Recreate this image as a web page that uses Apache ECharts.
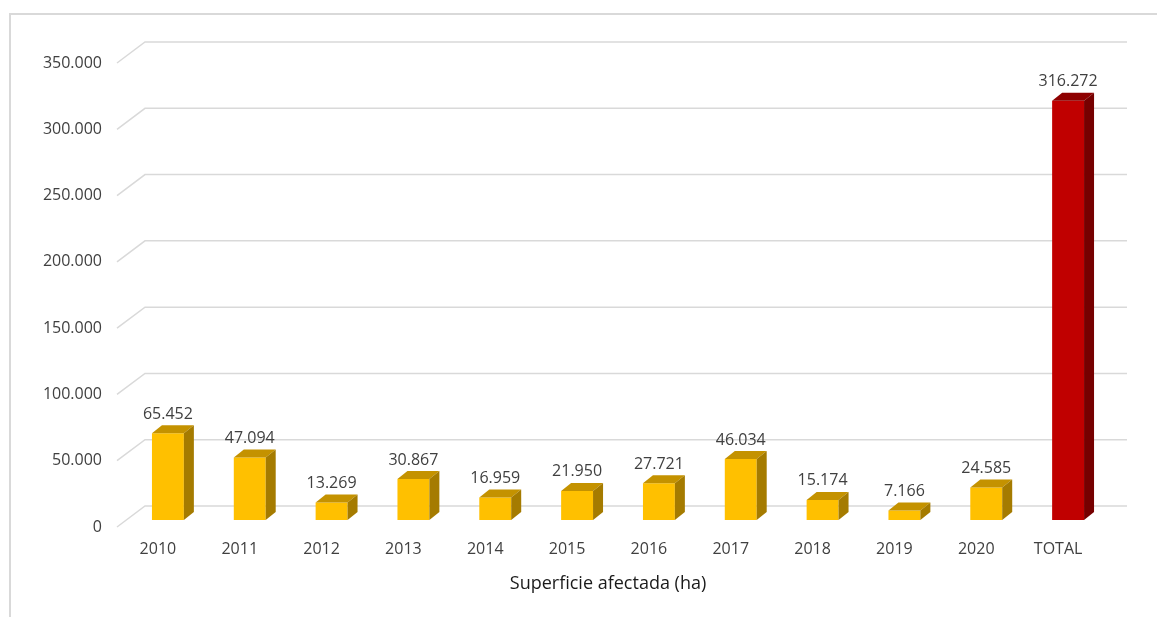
<!DOCTYPE html>
<html>
<head>
<meta charset="utf-8">
<script src="https://cdn.jsdelivr.net/npm/echarts@6/dist/echarts.min.js"></script>
<style>
  html, body { margin: 0; padding: 0; background: #fff; }
  #chart { width: 1157px; height: 617px; }
</style>
</head>
<body>
<div id="chart"></div>
<script>
// superficie afectada por año (ha)
const categories = ['2010', '2011', '2012', '2013', '2014', '2015', '2016', '2017', '2018', '2019', '2020', 'TOTAL']
const values = [65452, 47094, 13269, 30867, 16959, 21950, 27721, 46034, 15174, 7166, 24585, 316272]
const yTicks = [0, 50000, 100000, 150000, 200000, 250000, 300000, 350000]

// 3d look
const WALL_DX = 28, WALL_DY = -21
const BAR_OFF_X = 10, BAR_OFF_Y = -7
const BAR_DX = 10, BAR_DY = -8

const yellow = { front: '#FFC000', top: '#C49200', side: '#A57B00' }
const red = { front: '#C00000', top: '#8E0000', side: '#760000' }

const fmt = v => String(v).replace(/\B(?=(\d{3})+(?!\d))/g, '.')

const chart = echarts.init(document.getElementById('chart'))

chart.setOption({
  animation: false,
  graphic: [
    {
      type: 'rect',
      shape: { x: 10, y: 14, width: 1200, height: 700 },
      style: { fill: 'none', stroke: '#d9d9d9', lineWidth: 2 },
      silent: true
    }
  ],
  grid: { left: 117, right: 58, top: 63, bottom: 90 },
  xAxis: {
    type: 'category',
    data: categories,
    axisLine: { show: false },
    axisTick: { show: false },
    axisLabel: { color: '#404040', fontSize: 16, fontFamily: 'Open Sans', margin: 14 },
    name: 'Superficie afectada (ha)',
    nameLocation: 'middle',
    nameGap: 48,
    nameTextStyle: { color: '#1a1a1a', fontSize: 18, fontFamily: 'Open Sans' }
  },
  yAxis: {
    type: 'value',
    min: 0,
    max: 350000,
    interval: 50000,
    splitLine: { show: false },
    axisLine: { show: false },
    axisTick: { show: false },
    axisLabel: {
      color: '#404040',
      fontSize: 16,
      fontFamily: 'Open Sans',
      margin: 15,
      formatter: v => fmt(v)
    }
  },
  series: [
    {
      // back wall gridlines
      type: 'custom',
      z: 1,
      silent: true,
      data: yTicks.map(v => [0, v]),
      renderItem: (params, api) => {
        const cs = params.coordSys
        const y = api.coord([0, api.value(1)])[1]
        return {
          type: 'polyline',
          shape: {
            points: [
              [cs.x, y],
              [cs.x + WALL_DX, y + WALL_DY],
              [cs.x + cs.width + WALL_DX, y + WALL_DY]
            ]
          },
          style: { stroke: '#d9d9d9', lineWidth: 1.5, fill: 'none' }
        }
      }
    },
    {
      type: 'custom',
      z: 2,
      data: values.map((v, i) => [i, v]),
      renderItem: (params, api) => {
        const i = api.value(0)
        const v = api.value(1)
        const base = api.coord([i, 0])
        const top = api.coord([i, v])
        const w = api.size([1, 0])[0] * 0.39
        const cx = base[0] + BAR_OFF_X
        const bottom = base[1] + BAR_OFF_Y
        const ty = top[1] + BAR_OFF_Y
        const l = cx - w / 2
        const r = cx + w / 2
        const c = categories[i] === 'TOTAL' ? red : yellow
        return {
          type: 'group',
          children: [
            {
              type: 'rect',
              shape: { x: l, y: ty, width: w, height: bottom - ty },
              style: { fill: c.front }
            },
            {
              type: 'polygon',
              shape: { points: [[l, ty], [l + BAR_DX, ty + BAR_DY], [r + BAR_DX, ty + BAR_DY], [r, ty]] },
              style: { fill: c.top }
            },
            {
              type: 'polygon',
              shape: { points: [[r, ty], [r + BAR_DX, ty + BAR_DY], [r + BAR_DX, bottom + BAR_DY], [r, bottom]] },
              style: { fill: c.side }
            },
            {
              type: 'text',
              x: cx,
              y: ty + BAR_DY - 3,
              style: {
                text: fmt(v),
                fill: '#404040',
                fontSize: 16,
                fontFamily: 'Open Sans',
                align: 'center',
                verticalAlign: 'bottom'
              }
            }
          ]
        }
      }
    }
  ]
})
</script>
</body>
</html>
